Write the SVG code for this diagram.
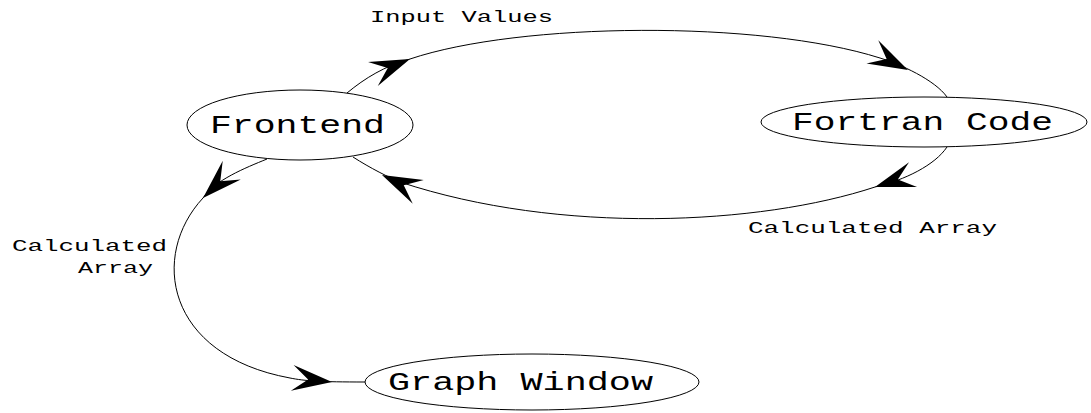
<svg xmlns="http://www.w3.org/2000/svg" xmlns:xlink="http://www.w3.org/1999/xlink" width="1091" height="413" viewBox="0 0 1091 413">
<style>
.node ellipse{fill:none;stroke:#000;stroke-width:1}
.edge{fill:none;stroke:#000;stroke-width:1}
.big{font-family:"Liberation Mono","DejaVu Sans Mono",monospace;font-size:26px;fill:#000}
.small{font-family:"Liberation Mono","DejaVu Sans Mono",monospace;font-size:16.5px;fill:#000}
.ah{fill:#000;stroke:none}
</style>
<defs>
<path id="ah" class="ah" d="M0,0 L-40,-13 L-24,0 L-40,13 Z"/>
</defs>
<rect width="1091" height="413" fill="#fff"/>
<g id="connectors">
<path class="edge" d="M347,93 C365,78 385,66 410,59 C520,22 760,20 880,58 C900,64 935,80 947,97"/>
<use xlink:href="#ah" href="#ah" transform="translate(410,59) rotate(-22)"/>
<use xlink:href="#ah" href="#ah" transform="translate(908,70) rotate(27)"/>
<path class="edge" d="M947,147 C935,165 905,180 875,187 C760,225 560,235 400,182 C390,178 370,168 353,157"/>
<use xlink:href="#ah" href="#ah" transform="translate(875,187) rotate(162)"/>
<use xlink:href="#ah" href="#ah" transform="translate(382,175) rotate(205)"/>
<path class="edge" d="M267,159 C245,168 215,180 203,198 C150,255 165,355 290,378 C305,381 320,382 365,382"/>
<use xlink:href="#ah" href="#ah" transform="translate(203,198) rotate(136)"/>
<use xlink:href="#ah" href="#ah" transform="translate(332,382) rotate(6)"/>
<text class="small" x="370" y="22" textLength="183" lengthAdjust="spacingAndGlyphs">Input Values</text>
<text class="small" x="748" y="233" textLength="249" lengthAdjust="spacingAndGlyphs">Calculated Array</text>
<text class="small" x="12" y="251" textLength="155" lengthAdjust="spacingAndGlyphs">Calculated</text>
<text class="small" x="78" y="273" textLength="75" lengthAdjust="spacingAndGlyphs">Array</text>
</g>
<g id="frontend" class="node">
<ellipse cx="300" cy="125" rx="113" ry="35"/>
<text class="big" x="210" y="133" textLength="175" lengthAdjust="spacingAndGlyphs">Frontend</text>
</g>
<g id="fortran" class="node">
<ellipse cx="924" cy="122" rx="163" ry="25"/>
<text class="big" x="792" y="130" textLength="261" lengthAdjust="spacingAndGlyphs">Fortran Code</text>
</g>
<g id="graph" class="node">
<ellipse cx="532" cy="382" rx="167" ry="28"/>
<text class="big" x="388" y="390" textLength="265" lengthAdjust="spacingAndGlyphs">Graph Window</text>
</g>
</svg>
